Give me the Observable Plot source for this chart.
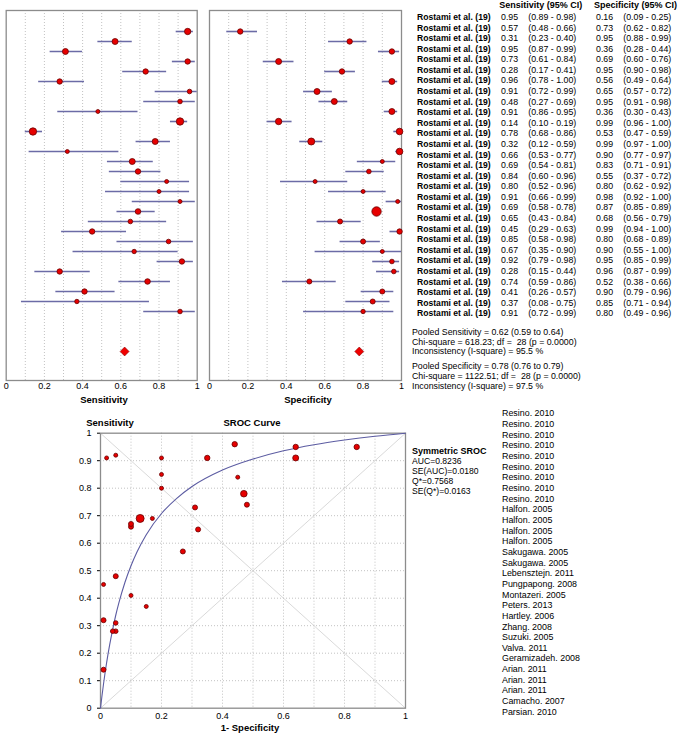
<!DOCTYPE html>
<html><head><meta charset="utf-8">
<script src="https://cdn.jsdelivr.net/npm/d3@7"></script>
<script src="https://cdn.jsdelivr.net/npm/@observablehq/plot@0.6"></script>
<style>
body{margin:0;background:#fff;}
#root{position:relative;width:681px;height:739px;font-family:"Liberation Sans",Arial,sans-serif;color:#000;overflow:hidden;background:#fff}
.abs{position:absolute;white-space:pre}
#root svg{position:absolute;overflow:visible}
</style></head><body><div id="root"></div>
<script>
// ---------- data ----------
const studyLabels = ["Rostami et al. (19)","Rostami et al. (19)","Rostami et al. (19)","Rostami et al. (19)","Rostami et al. (19)","Rostami et al. (19)","Rostami et al. (19)","Rostami et al. (19)","Rostami et al. (19)","Rostami et al. (19)","Rostami et al. (19)","Rostami et al. (19)","Rostami et al. (19)","Rostami et al. (19)","Rostami et al. (19)","Rostami et al. (19)","Rostami et al. (19)","Rostami et al. (19)","Rostami et al. (19)","Rostami et al. (19)","Rostami et al. (19)","Rostami et al. (19)","Rostami et al. (19)","Rostami et al. (19)","Rostami et al. (19)","Rostami et al. (19)","Rostami et al. (19)","Rostami et al. (19)","Rostami et al. (19)"];
const sens   = [0.95,0.57,0.31,0.95,0.73,0.28,0.96,0.91,0.48,0.91,0.14,0.78,0.32,0.66,0.69,0.84,0.80,0.91,0.69,0.65,0.45,0.85,0.67,0.92,0.28,0.74,0.41,0.37,0.91];
const sensLo = [0.89,0.48,0.23,0.87,0.61,0.17,0.78,0.72,0.27,0.86,0.10,0.68,0.12,0.53,0.54,0.60,0.52,0.66,0.58,0.43,0.29,0.58,0.35,0.79,0.15,0.59,0.26,0.08,0.72];
const sensHi = [0.98,0.66,0.40,0.99,0.84,0.41,1.00,0.99,0.69,0.95,0.19,0.86,0.59,0.77,0.81,0.96,0.96,0.99,0.78,0.84,0.63,0.98,0.90,0.98,0.44,0.86,0.57,0.75,0.99];
const spec   = [0.16,0.73,0.95,0.36,0.69,0.95,0.56,0.65,0.95,0.36,0.99,0.53,0.99,0.90,0.83,0.55,0.80,0.98,0.87,0.68,0.99,0.80,0.90,0.95,0.96,0.52,0.90,0.85,0.80];
const specLo = [0.09,0.62,0.88,0.28,0.60,0.90,0.49,0.57,0.91,0.30,0.96,0.47,0.97,0.77,0.71,0.37,0.62,0.92,0.85,0.56,0.94,0.68,0.55,0.85,0.87,0.38,0.79,0.71,0.49];
const specHi = [0.25,0.82,0.99,0.44,0.76,0.98,0.64,0.72,0.98,0.43,1.00,0.59,1.00,0.97,0.91,0.72,0.92,1.00,0.89,0.79,1.00,0.89,1.00,0.99,0.99,0.66,0.96,0.94,0.96];
// estimated relative study weights (marker area)
const sensWeight = [10,9,9,7.3,7.3,7.3,5.3,5.3,4,13.7,13.7,9,4,9,7.3,4,4,4,7.8,5.3,7.3,5.3,4.8,7.3,7.3,7.8,7.3,4.8,5.3];
const specWeight = [7.3,7.3,7.3,9,7.3,9,9,9,9,10.2,10.9,12.3,10.9,4,5.3,4,4,4,22,6.3,7.3,6.3,4,5.3,5.3,6.3,6.3,6.3,4.8];
const srocWeight = [7.3,6.3,5.3,7.3,6.3,5.3,7.3,7.3,6.3,9,6.3,10.9,6.3,6.3,4,4,4,4,16,6.3,4,4,6.3,4,5.3,6.3,4,4,4];
const pooledSens = {est:0.62, lo:0.59, hi:0.64};
const pooledSpec = {est:0.78, lo:0.76, hi:0.79};
const pooledSensText = ["Pooled Sensitivity = 0.62 (0.59 to 0.64)","Chi-square = 618.23; df =  28 (p = 0.0000)","Inconsistency (I-square) = 95.5 %"];
const pooledSpecText = ["Pooled Specificity = 0.78 (0.76 to 0.79)","Chi-square = 1122.51; df =  28 (p = 0.0000)","Inconsistency (I-square) = 97.5 %"];
const srocStats = ["Symmetric SROC","AUC=0.8236","SE(AUC)=0.0180","Q*=0.7568","SE(Q*)=0.0163"];
const srocStudies = ["Resino. 2010","Resino. 2010","Resino. 2010","Resino. 2010","Resino. 2010","Resino. 2010","Resino. 2010","Resino. 2010","Resino. 2010","Halfon. 2005","Halfon. 2005","Halfon. 2005","Halfon. 2005","Sakugawa. 2005","Sakugawa. 2005","Lebensztejn. 2011","Pungpapong. 2008","Montazeri. 2005","Peters. 2013","Hartley. 2006","Zhang. 2008","Suzuki. 2005","Valva. 2011","Geramizadeh. 2008","Arian. 2011","Arian. 2011","Arian. 2011","Camacho. 2007","Parsian. 2010"];
// SROC curve (1-specificity, sensitivity)
const srocCurveFpr = [0,0.002,0.005,0.01,0.015,0.02,0.03,0.04,0.05,0.06,0.08,0.1,0.12,0.15,0.2,0.25,0.3,0.4,0.5,0.6,0.7,0.8,0.9,1];
const srocCurveTpr = [0,0.019,0.046,0.089,0.129,0.165,0.230,0.287,0.338,0.382,0.457,0.518,0.569,0.631,0.708,0.763,0.806,0.866,0.906,0.936,0.958,0.975,0.989,1];
const diagonals = [{x1:0,y1:0,x2:1,y2:1},{x1:0,y1:1,x2:1,y2:0}];
// tick labels / grid
const forestTicks = [0,0.2,0.4,0.6,0.8,1];
const gridTicks = [0.1,0.2,0.3,0.4,0.5,0.6,0.7,0.8,0.9];
const srocXTicks = [0,0.2,0.4,0.6,0.8,1];
const srocYTicks = [0,0.1,0.2,0.3,0.4,0.5,0.6,0.7,0.8,0.9,1];
const axisTitles = {sens:"Sensitivity", spec:"Specificity", srocY:"Sensitivity", srocTitle:"SROC Curve", srocX:"1- Specificity"};
const tableHeaders = ["Sensitivity (95% CI)","Specificity (95% CI)"];

// ---------- helpers ----------
const root = document.getElementById("root");
const FONT = '"Liberation Sans", Arial, sans-serif';
function addText(txt, x, yc, o = {}) {
  const size = o.size || 8.8, lh = o.lh || 10;
  const d = document.createElement("div");
  d.className = "abs"; d.textContent = txt;
  d.style.left = x + "px"; d.style.top = (yc - lh / 2) + "px";
  d.style.lineHeight = lh + "px"; d.style.fontSize = size + "px";
  if (o.bold) d.style.fontWeight = "bold";
  if (o.center) d.style.transform = "translateX(-50%)";
  root.appendChild(d);
}
function place(svg, left, top) { svg.style.left = left + "px"; svg.style.top = top + "px"; root.appendChild(svg); }
const fmtTick = d => String(d);
const rowKeys = sens.map((_, i) => "s" + i);
const yDomain = [...rowKeys, "g1", "g2", "g3", "pooled"];
const plotStyle = {fontFamily: FONT, fontSize: "9px", color: "#000", background: "transparent", overflow: "visible"};

function forest(est, lo, hi, w, pooled, width, mL, mR) {
  const rows = est.map((v, i) => ({key: rowKeys[i], est: v, lo: lo[i], hi: hi[i], w: w[i]}));
  return Plot.plot({
    width, height: 410, marginLeft: mL, marginRight: mR, marginTop: 10, marginBottom: 30,
    style: plotStyle,
    x: {domain: [0, 1], ticks: forestTicks, tickFormat: fmtTick, tickSize: 0, tickPadding: 2.5, label: null},
    y: {type: "point", domain: yDomain, range: [20.7, 361], padding: 0, axis: null},
    r: {domain: [0, 25], range: [0, 5]},
    marks: [
      Plot.ruleX(gridTicks, {stroke: "#c2c2c2", strokeDasharray: "1,2", strokeWidth: 1}),
      Plot.frame({stroke: "#8c8c8c", strokeWidth: 1.3}),
      Plot.ruleY(rows, {y: "key", x1: "lo", x2: "hi", stroke: "#6b6ba6", strokeWidth: 1.6}),
      Plot.dot(rows, {x: "est", y: "key", r: "w", fill: "#e60000", stroke: "#6a0000", strokeWidth: 0.8}),
      Plot.dot([pooled], {x: "est", y: () => "pooled", symbol: "diamond2", r: 4, fill: "#f00000", stroke: "#8a0000", strokeWidth: 0.6})
    ]
  });
}

// ---------- forest plots ----------
place(forest(sens, sensLo, sensHi, sensWeight, pooledSens, 205, 5.7, 8.3), 0, 0);
place(forest(spec, specLo, specHi, specWeight, pooledSpec, 205, 6, 7), 203, 0);
addText(axisTitles.sens, 104, 399.5, {bold: true, size: 9.5, lh: 9, center: true});
addText(axisTitles.spec, 308, 399.5, {bold: true, size: 9.5, lh: 9, center: true});

// ---------- table ----------
addText(tableHeaders[0], 499.3, 5, {bold: true, size: 9});
addText(tableHeaders[1], 594, 5, {bold: true, size: 9});
sens.forEach((v, i) => {
  const yc = 17 + 10.58 * i;
  addText(studyLabels[i], 417, yc, {bold: true, size: 8.6});
  addText(v.toFixed(2), 501, yc);
  addText(`(${sensLo[i].toFixed(2)} - ${sensHi[i].toFixed(2)})`, 528.3, yc);
  addText(spec[i].toFixed(2), 596, yc);
  addText(`(${specLo[i].toFixed(2)} - ${specHi[i].toFixed(2)})`, 623.3, yc);
});
pooledSensText.forEach((t, i) => addText(t, 412, 332.7 + 9.7 * i, {lh: 9.5}));
pooledSpecText.forEach((t, i) => addText(t, 412, 367 + 9.7 * i, {lh: 9.5}));

// ---------- SROC ----------
const srocRows = sens.map((v, i) => ({fpr: 1 - spec[i], tpr: v, w: srocWeight[i]}));
const curve = srocCurveFpr.map((f, i) => ({fpr: f, tpr: srocCurveTpr[i]}));
place(Plot.plot({
  width: 355, height: 325, marginLeft: 40, marginRight: 10, marginTop: 22.7, marginBottom: 27.3,
  style: plotStyle,
  x: {domain: [0, 1], ticks: srocXTicks, tickFormat: fmtTick, tickSize: 0, tickPadding: 4, label: null},
  y: {domain: [0, 1], ticks: srocYTicks, tickFormat: fmtTick, tickSize: 3, tickPadding: 6, label: null},
  r: {domain: [0, 25], range: [0, 5]},
  marks: [
    Plot.ruleX(gridTicks, {stroke: "#c2c2c2", strokeDasharray: "1,2"}),
    Plot.ruleY(gridTicks, {stroke: "#c2c2c2", strokeDasharray: "1,2"}),
    Plot.link(diagonals, {x1: "x1", y1: "y1", x2: "x2", y2: "y2", stroke: "#cfcfcf", strokeWidth: 0.8}),
    Plot.frame({stroke: "#8c8c8c", strokeWidth: 1.3}),
    Plot.line(curve, {x: "fpr", y: "tpr", stroke: "#5c5ca2", strokeWidth: 1.1, curve: "monotone-x"}),
    Plot.dot(srocRows, {x: "fpr", y: "tpr", r: "w", fill: "#e60000", stroke: "#6a0000", strokeWidth: 0.8})
  ]
}), 60, 410);
addText(axisTitles.srocY, 110, 423, {bold: true, size: 9.5, center: true});
addText(axisTitles.srocTitle, 252, 423, {bold: true, size: 9.5, center: true});
addText(axisTitles.srocX, 250, 727, {bold: true, size: 9.5, lh: 9, center: true});
srocStats.forEach((t, i) => addText(t, 412, 451.7 + 9.9 * i, {bold: i === 0, size: i === 0 ? 9 : 8.6, lh: 9.5}));
srocStudies.forEach((t, i) => addText(t, 502, 413.3 + 10.66 * i, {size: 8.9}));
</script></body></html>
